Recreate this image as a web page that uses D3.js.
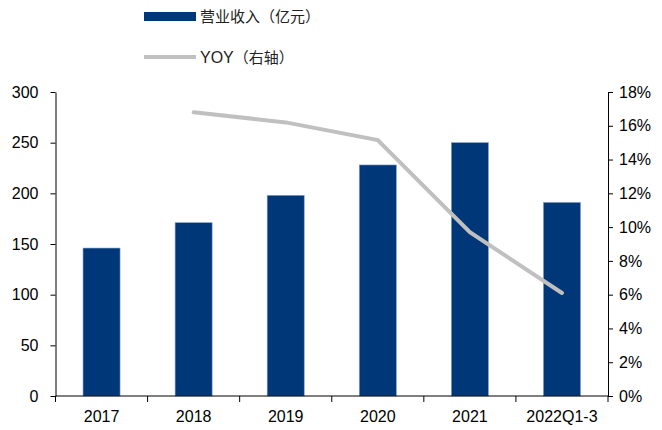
<!DOCTYPE html>
<html>
<head>
<meta charset="utf-8">
<script src="https://cdn.jsdelivr.net/npm/d3@7"></script>
<style>
  body { margin: 0; background: #fff; }
  text { font-family: "Liberation Sans", Arial, sans-serif; }
</style>
</head>
<body>
<div id="chart"></div>
<script>
var categories = ["2017", "2018", "2019", "2020", "2021", "2022Q1-3"];
var revenue = [146, 171, 198, 228, 250, 191];          // 营业收入（亿元）
var yoy = [null, 16.8, 16.2, 15.15, 9.7, 6.1];          // YOY %
var leftTicks = [0, 50, 100, 150, 200, 250, 300];
var rightTicks = [0, 2, 4, 6, 8, 10, 12, 14, 16, 18];

var width = 662, height = 430;
var margin = {top: 92, right: 54, bottom: 34, left: 55.5};
var innerW = width - margin.left - margin.right,
    innerH = height - margin.top - margin.bottom;

var svg = d3.select("#chart")
    .append("svg")
    .attr("width", width)
    .attr("height", height);

var g = svg.append("g")
    .attr("transform", "translate(" + margin.left + "," + margin.top + ")");

// scales
var x = d3.scaleBand()
    .domain(categories)
    .range([0, innerW])
    .paddingInner(0.6)
    .paddingOuter(0.3);

var xBand = d3.scaleBand()
    .domain(categories)
    .range([0, innerW]);

var y = d3.scaleLinear().domain([0, 300]).range([innerH, 0]);
var y2 = d3.scaleLinear().domain([0, 18]).range([innerH, 0]);

// bars
g.append("g")
    .selectAll("rect")
    .data(revenue)
    .enter()
    .append("rect")
    .attr("x", function (d, i) { return xBand(categories[i]) + xBand.bandwidth() / 2 - 18.5; })
    .attr("width", 37)
    .attr("y", function (d) { return y(d); })
    .attr("height", function (d) { return innerH - y(d); })
    .attr("fill", "#003778")
    .attr("stroke", "#7f9bc2")
    .attr("stroke-width", 0.6);

// left axis
var leftAxis = g.append("g")
    .call(d3.axisLeft(y).tickValues(leftTicks).tickSize(5).tickPadding(12).tickSizeOuter(0));
leftAxis.selectAll("text").style("font-size", "16px").attr("fill", "#000");
leftAxis.selectAll("line, path").attr("stroke", "#000");

// right axis
var rightAxis = g.append("g")
    .attr("transform", "translate(" + innerW + ",0)")
    .call(d3.axisRight(y2).tickValues(rightTicks).tickSize(5).tickPadding(6).tickSizeOuter(0)
        .tickFormat(function (d) { return d + "%"; }));
rightAxis.selectAll("text").style("font-size", "16px").attr("fill", "#000");
rightAxis.selectAll("line, path").attr("stroke", "#000");

// bottom axis (ticks at category boundaries)
var bottom = g.append("g").attr("transform", "translate(0," + innerH + ")");
bottom.append("line")
    .attr("x1", 0).attr("x2", innerW)
    .attr("stroke", "#000");
bottom.selectAll(".tk")
    .data(categories.concat(["end"]))
    .enter()
    .append("line")
    .attr("x1", function (d, i) { return i * xBand.bandwidth(); })
    .attr("x2", function (d, i) { return i * xBand.bandwidth(); })
    .attr("y1", 0).attr("y2", 6)
    .attr("stroke", "#000");
bottom.selectAll("text")
    .data(categories)
    .enter()
    .append("text")
    .attr("x", function (d) { return xBand(d) + xBand.bandwidth() / 2; })
    .attr("y", 26)
    .attr("text-anchor", "middle")
    .style("font-size", "16px")
    .text(function (d) { return d; });

// YOY line
var line = d3.line()
    .defined(function (d) { return d != null; })
    .x(function (d, i) { return xBand(categories[i]) + xBand.bandwidth() / 2; })
    .y(function (d) { return y2(d); });

g.append("path")
    .datum(yoy)
    .attr("d", line)
    .attr("fill", "none")
    .attr("stroke", "#c0c0c0")
    .attr("stroke-width", 4)
    .attr("stroke-linecap", "round");

// legend
var legend = svg.append("g");
legend.append("rect")
    .attr("x", 144).attr("y", 12).attr("width", 52).attr("height", 9)
    .attr("fill", "#003778");
legend.append("text")
    .attr("x", 200).attr("y", 22)
    .style("font-family", "'Noto Sans CJK SC', sans-serif")
    .style("font-size", "15px")
    .attr("fill", "#222")
    .text("营业收入（亿元）");
legend.append("line")
    .attr("x1", 144).attr("x2", 196).attr("y1", 57).attr("y2", 57)
    .attr("stroke", "#c0c0c0").attr("stroke-width", 4);
legend.append("text")
    .attr("x", 200).attr("y", 63)
    .style("font-size", "16px")
    .attr("fill", "#222")
    .text("YOY")
  .append("tspan")
    .style("font-family", "'Noto Sans CJK SC', sans-serif")
    .style("font-size", "15px")
    .text("（右轴）");
</script>
</body>
</html>
